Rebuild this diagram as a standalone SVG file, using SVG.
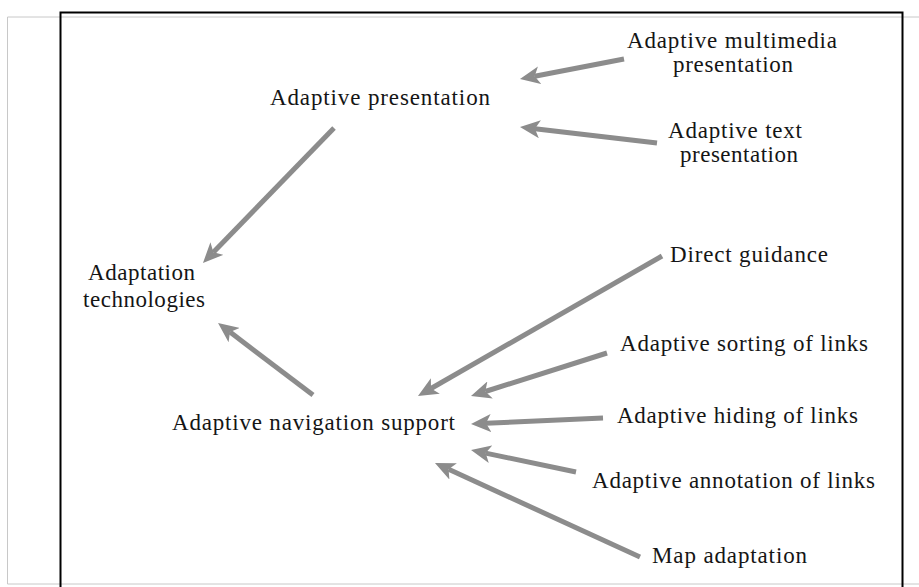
<svg xmlns="http://www.w3.org/2000/svg" width="919" height="587" viewBox="0 0 919 587">
<style>
.t{font-family:"Liberation Serif","Times New Roman",serif;font-size:23px;fill:#151515}
.c{stroke:#8c8c8c;stroke-width:5;fill:none;marker-end:url(#ah)}
</style>
<defs>
<marker id="ah" markerUnits="userSpaceOnUse" viewBox="0 0 20 18" markerWidth="20" markerHeight="18" refX="5" refY="9" orient="auto">
<path d="M0,0 L20,9 L0,18 L5,9 z" fill="#8c8c8c"/>
</marker>
</defs>
<rect width="919" height="587" fill="#fff"/>
<path d="M919,17 H7.5 V584 H919" fill="none" stroke="#c8c8c8" stroke-width="1"/>
<path d="M60.5,590 V12.5 H902.5 V590" fill="none" stroke="#000" stroke-width="2"/>
<g id="connectors">
<line class="c" x1="624" y1="59" x2="534.7" y2="76.2"/>
<line class="c" x1="657" y1="143" x2="534.9" y2="128.7"/>
<line class="c" x1="334" y1="128" x2="213.4" y2="252.2"/>
<line class="c" x1="313" y1="395" x2="230" y2="332.1"/>
<line class="c" x1="662" y1="256" x2="431" y2="388.5"/>
<line class="c" x1="607" y1="353" x2="485.3" y2="391.5"/>
<line class="c" x1="603" y1="418" x2="486" y2="423.3"/>
<line class="c" x1="576" y1="472" x2="485.7" y2="453.1"/>
<line class="c" x1="640" y1="557" x2="448.6" y2="469.3"/>
</g>
<g id="multimedia"><text class="t" x="627" y="48" textLength="210">Adaptive multimedia</text><text class="t" x="673" y="72" textLength="120">presentation</text></g>
<g id="text-pres"><text class="t" x="668" y="138" textLength="134">Adaptive text</text><text class="t" x="680" y="162" textLength="118">presentation</text></g>
<g id="presentation"><text class="t" x="270" y="105" textLength="220">Adaptive presentation</text></g>
<g id="technologies"><text class="t" x="88" y="280" textLength="107">Adaptation</text><text class="t" x="83" y="307" textLength="122">technologies</text></g>
<g id="navigation"><text class="t" x="172" y="430" textLength="283">Adaptive navigation support</text></g>
<g id="direct"><text class="t" x="670" y="262" textLength="158">Direct guidance</text></g>
<g id="sorting"><text class="t" x="620" y="351" textLength="248">Adaptive sorting of links</text></g>
<g id="hiding"><text class="t" x="617" y="423" textLength="241">Adaptive hiding of links</text></g>
<g id="annotation"><text class="t" x="592" y="488" textLength="283">Adaptive annotation of links</text></g>
<g id="map"><text class="t" x="652" y="563" textLength="155">Map adaptation</text></g>
</svg>
